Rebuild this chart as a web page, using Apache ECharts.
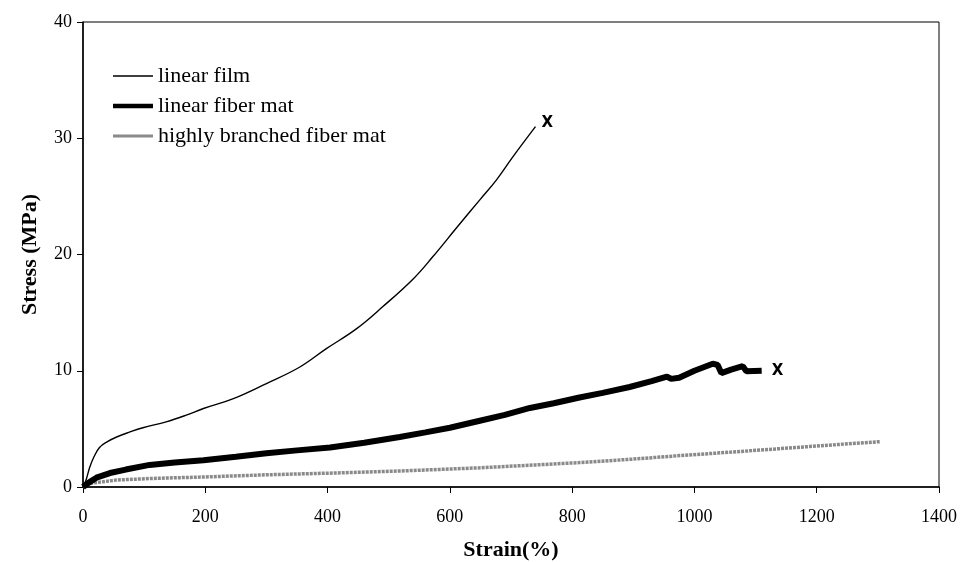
<!DOCTYPE html>
<html lang="en">
<head>
    <meta charset="UTF-8">
    <title>Stress-Strain</title>
    <script src="https://cdn.jsdelivr.net/npm/echarts@6/dist/echarts.min.js"></script>
    <style>
        html, body { margin: 0; padding: 0; background: #fff; }
        #chart { width: 960px; height: 562px; }
    </style>
</head>
<body>
    <div id="chart"></div>
    <script>
        // values
        const seriesNames = ['linear film', 'linear fiber mat', 'highly branched fiber mat'];

        const filmStrain = [0, 5, 11, 18, 27, 40, 55, 75, 98, 136, 170, 197, 246, 300, 354, 398, 447, 490, 540, 572, 611, 649, 676, 703, 740];
        const filmStress = [0, 0.6, 1.7, 2.6, 3.4, 3.9, 4.3, 4.7, 5.1, 5.6, 6.2, 6.75, 7.6, 8.9, 10.3, 11.9, 13.6, 15.5, 17.9, 19.8, 22.3, 24.7, 26.4, 28.4, 31.0];

        const fiberStrain = [0, 10, 22, 44, 70, 109, 150, 197, 250, 300, 350, 404, 460, 518, 560, 600, 649, 690, 731, 770, 812, 850, 894, 930, 955, 962, 975, 1000, 1030, 1038, 1044, 1060, 1079, 1085, 1110];
        const fiberStress = [0, 0.4, 0.8, 1.2, 1.5, 1.9, 2.1, 2.3, 2.6, 2.9, 3.15, 3.4, 3.8, 4.3, 4.7, 5.1, 5.7, 6.2, 6.8, 7.2, 7.7, 8.1, 8.6, 9.1, 9.5, 9.3, 9.4, 10.0, 10.6, 10.5, 9.8, 10.1, 10.4, 9.95, 10.0];

        const branchedStrain = [0, 10, 55, 120, 191, 300, 409, 530, 649, 740, 812, 900, 976, 1060, 1140, 1220, 1303];
        const branchedStress = [0, 0.3, 0.6, 0.75, 0.85, 1.05, 1.2, 1.4, 1.65, 1.9, 2.1, 2.4, 2.7, 3.0, 3.3, 3.6, 3.9];

        function zip(xs, ys) {
            return xs.map(function (x, i) { return [x, ys[i]]; });
        }

        // legend line icon: a bar of the given thickness inside a 14px tall box
        function lineIcon(h) {
            let y = (14 - h) / 2;
            return 'path://M0,0h0.01v0.01h-0.01zM0,14h0.01v0.01h-0.01zM0,' + y + 'h40v' + h + 'h-40z';
        }

        const serif = '"Liberation Serif", "DejaVu Serif", serif';

        let myChart = echarts.init(document.getElementById('chart'));
        let option = {
            animation: false,
            backgroundColor: '#fff',
            grid: {
                left: 83,
                right: 21,
                top: 22,
                bottom: 75,
                outerBoundsMode: 'none',
                containLabel: false,
                show: true,
                borderColor: '#000',
                borderWidth: 1
            },
            legend: {
                orient: 'vertical',
                left: 113,
                top: 65,
                padding: 0,
                itemWidth: 40,
                itemHeight: 14,
                itemGap: 8,
                data: [
                    { name: seriesNames[0], icon: lineIcon(1.4), itemStyle: { color: '#000' } },
                    { name: seriesNames[1], icon: lineIcon(4.5), itemStyle: { color: '#000' } },
                    { name: seriesNames[2], icon: lineIcon(3), itemStyle: { color: '#8a8a8a' } }
                ],
                textStyle: { fontFamily: serif, fontSize: 22, color: '#000' }
            },
            xAxis: {
                type: 'value',
                min: 0,
                max: 1400,
                interval: 200,
                name: 'Strain(%)',
                nameLocation: 'middle',
                nameGap: 52,
                nameTextStyle: { fontFamily: serif, fontSize: 22, fontWeight: 'bold', color: '#000' },
                axisLine: { show: true, lineStyle: { color: '#000', width: 1.5 } },
                axisTick: { show: true, length: 6, lineStyle: { color: '#000' } },
                axisLabel: {
                    fontFamily: serif, fontSize: 18, color: '#000', margin: 21,
                    formatter: function (v) { return String(v); }
                },
                splitLine: { show: false }
            },
            yAxis: {
                type: 'value',
                min: 0,
                max: 40,
                interval: 10,
                name: 'Stress (MPa)',
                nameLocation: 'middle',
                nameGap: 42,
                nameTextStyle: { fontFamily: serif, fontSize: 22, fontWeight: 'bold', color: '#000' },
                axisLine: { show: true, lineStyle: { color: '#000', width: 1.5 } },
                axisTick: { show: true, length: 6, lineStyle: { color: '#000' } },
                axisLabel: { fontFamily: serif, fontSize: 18, color: '#000', margin: 11 },
                splitLine: { show: false }
            },
            series: [{
                name: seriesNames[2],
                type: 'line',
                showSymbol: false,
                data: zip(branchedStrain, branchedStress),
                lineStyle: { color: '#8a8a8a', width: 3.5, type: [3, 1] },
                itemStyle: { color: '#8a8a8a' }
            }, {
                name: seriesNames[1],
                type: 'line',
                showSymbol: false,
                data: zip(fiberStrain, fiberStress),
                lineStyle: { color: '#000', width: 6 },
                itemStyle: { color: '#000' },
                endLabel: {
                    show: true,
                    formatter: 'X',
                    fontFamily: '"DejaVu Sans", sans-serif',
                    fontWeight: 'bold',
                    fontSize: 15,
                    color: '#000',
                    distance: 10
                }
            }, {
                name: seriesNames[0],
                type: 'line',
                showSymbol: false,
                smooth: 0.4,
                data: zip(filmStrain, filmStress),
                lineStyle: { color: '#000', width: 1.4 },
                itemStyle: { color: '#000' },
                endLabel: {
                    show: true,
                    formatter: 'X',
                    fontFamily: '"DejaVu Sans", sans-serif',
                    fontWeight: 'bold',
                    fontSize: 15,
                    color: '#000',
                    distance: 6,
                    offset: [0, -4]
                }
            }]
        };
        myChart.setOption(option);
    </script>
</body>
</html>
